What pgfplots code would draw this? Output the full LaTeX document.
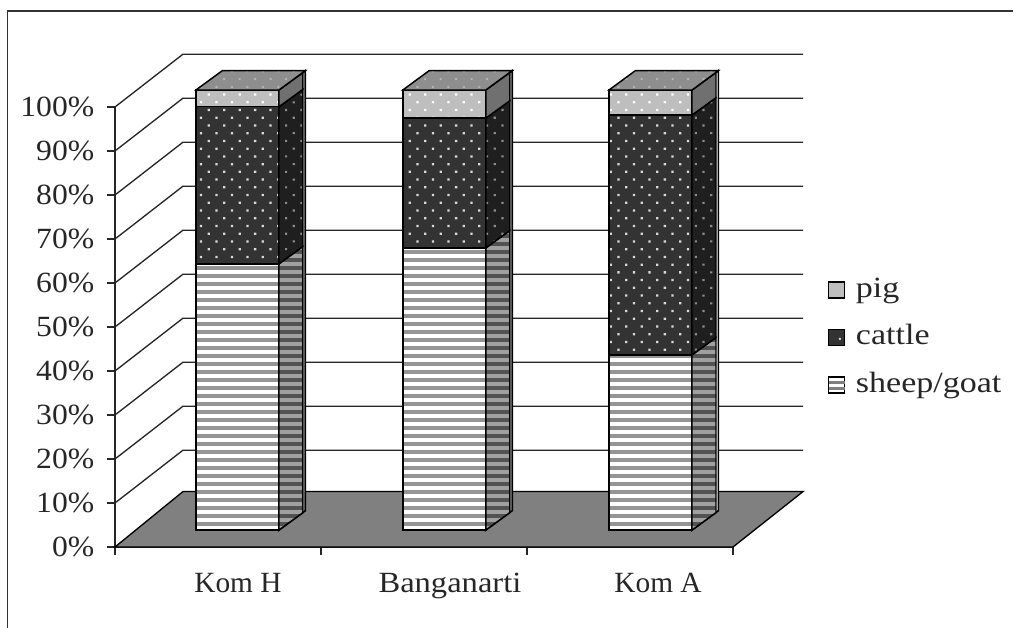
\documentclass[border=0pt]{standalone}
\usepackage{fontspec}
\setmainfont{Liberation Serif}
\newfontfamily\tickfont[FakeStretch=1.08]{Liberation Serif}
\newfontfamily\midfont[FakeStretch=1.11]{Liberation Serif}
\newfontfamily\legendfont[FakeStretch=1.16]{Liberation Serif}
\usepackage{pgfplots}
\pgfplotsset{compat=1.18}
\usetikzlibrary{patterns.meta}

\definecolor{floorgray}{HTML}{808080}
\definecolor{pigfront}{HTML}{BEBEBE}
\definecolor{pigside}{HTML}{707070}
\definecolor{pigtop}{HTML}{8E8E8E}
\definecolor{cattlefront}{HTML}{333333}
\definecolor{cattleside}{HTML}{1F1F1F}
\definecolor{sheepside}{HTML}{A0A0A0}

\tikzset{
  sheepfront/.style={pattern={Lines[angle=0,distance=6pt,line width=2.3pt]},pattern color=black!42},
  sheepstripes/.style={pattern={Lines[angle=0,distance=6pt,line width=3pt]},pattern color=black!68},
  dotsfront/.style={pattern={Dots[distance=8.2pt,angle=45,radius=1.2pt]},pattern color=white!85!black},
  dotsside/.style={pattern={Dots[distance=8.2pt,angle=45,radius=1.1pt]},pattern color=white!55!black},
  dotspig/.style={pattern={Dots[distance=8.2pt,angle=45,radius=1.2pt]},pattern color=white},
  dotstop/.style={pattern={Dots[distance=8.2pt,angle=45,radius=1.1pt]},pattern color=white!70!black},
}

% bar geometry in axis units
\newcommand{\barw}{0.403}
\newcommand{\barbase}{3.86}
\newcommand{\sidex}{0.1165}
\newcommand{\sidey}{3.95}
\newcommand{\backx}{0.128}
\newcommand{\backy}{4.4}

\newcommand{\facepoly}[3]{%
  \addplot[forget plot,fill=#1,draw=none] coordinates {#3} --cycle;
  \addplot[forget plot,#2,draw=black,line width=1.1pt] coordinates {#3} --cycle;
}

\newcommand{\barseg}[7]{%
  \pgfmathsetmacro\xa{#1}\pgfmathsetmacro\xb{#1+\barw}\pgfmathsetmacro\xc{\xb+\sidex}
  \pgfmathsetmacro\yl{#2+\barbase}\pgfmathsetmacro\yh{#3+\barbase}
  \pgfmathsetmacro\ylb{\yl+\sidey}\pgfmathsetmacro\yhb{\yh+\sidey}
  \facepoly{#4}{#5}{(\xa,\yl)(\xb,\yl)(\xb,\yh)(\xa,\yh)}
  \facepoly{#6}{#7}{(\xb,\yl)(\xc,\ylb)(\xc,\yhb)(\xb,\yh)}
}

% #1 left edge, #2 sheep/goat, #3 cattle, #4 pig (percent)
\newcommand{\stackedbar}[4]{%
  \pgfmathsetmacro\sa{#2}\pgfmathsetmacro\sb{#2+#3}\pgfmathsetmacro\sc{#2+#3+#4}
  \pgfmathsetmacro\rx{#1+\barw}\pgfmathsetmacro\rxo{\rx+\backx}
  \pgfmathsetmacro\by{\barbase+\backy}\pgfmathsetmacro\ty{\sc+\barbase+\backy}\pgfmathsetmacro\fy{\sc+\barbase}
  \addplot[forget plot,fill=white,draw=black,line width=1.3pt] coordinates {(\rx,\barbase)(\rxo,\by)(\rxo,\ty)(\rx,\fy)} --cycle;
  \edef\topa{\sa}\edef\topb{\sb}\edef\topc{\sc}\edef\xleft{#1}
  \barseg{\xleft}{0}{\topa}{white}{sheepfront}{sheepside}{sheepstripes}
  \barseg{\xleft}{\topa}{\topb}{cattlefront}{dotsfront}{cattleside}{dotsside}
  \barseg{\xleft}{\topb}{\topc}{pigfront}{dotspig}{pigside}{}
  \pgfmathsetmacro\rx{\xleft+\barw}\pgfmathsetmacro\rxo{\rx+\backx}
  \pgfmathsetmacro\ty{\topc+\barbase+\backy}\pgfmathsetmacro\fy{\topc+\barbase}
  \pgfmathsetmacro\lxo{\xleft+\backx}
  \facepoly{pigtop}{dotstop}{(\xleft,\fy)(\lxo,\ty)(\rxo,\ty)(\rx,\fy)}
}

\begin{document}
\fontsize{22}{26}\selectfont
\begin{tikzpicture}
\begin{axis}[
    x=154.5pt, y=3.3pt,
    xmin=0, xmax=3, ymin=0, ymax=100,
    clip=false,
    axis x line*=bottom, axis y line*=left,
    axis line style={line width=1.1pt,black!85},
    tick style={line width=1.1pt,black!85},
    tick align=outside,
    major tick length=6pt,
    ytick={0,10,...,100},
    yticklabels={0\%,10\%,20\%,30\%,40\%,50\%,60\%,70\%,80\%,90\%,100\%},
    xtick={0,1,2,3},
    xticklabels={},
    extra x ticks={0.597,1.626,2.636},
    extra x tick labels={Kom H,{\midfont Banganarti},Kom A},
    extra x tick style={major tick length=0pt},
    xticklabel style={yshift=-12pt,black!85},
    yticklabel style={xshift=-2pt,black!85,font=\tickfont},
    legend cell align=left,
    legend style={at={(axis cs:3.44,47.6)},anchor=west,draw=none,fill=none,
      text=black!85,font=\legendfont,
      nodes={text height=16pt,text depth=5pt,inner sep=0pt},
      row sep=14.6pt,
      /tikz/every odd column/.style={column sep=8pt}},
]
% frame of the figure
\addplot[forget plot,black!80,line width=1.1pt] coordinates {(-0.522,-18.4)(-0.522,121.8)(4.36,121.8)};

% walls
\pgfplotsinvokeforeach{10,20,...,100}{
  \pgfmathsetmacro\gb{#1+12}
  \addplot[forget plot,black!85,line width=1pt] coordinates {(0,#1)(0.33,\gb)(3.34,\gb)};
}
% floor
\addplot[forget plot,fill=floorgray,draw=black,line width=1pt] coordinates {(0,0)(0.33,12.6)(3.34,12.6)(3,0)} --cycle;

% sheep/goat, cattle, pig in percent
\stackedbar{0.393}{60.5}{35.7}{3.8}
\stackedbar{1.397}{64.1}{29.5}{6.4}
\stackedbar{2.398}{39.8}{54.5}{5.7}

\addlegendimage{legend image code/.code={
  \draw[fill=pigfront,draw=black,line width=1pt] (0pt,-6pt) rectangle (12pt,6pt);}}
\addlegendentry{pig}
\addlegendimage{legend image code/.code={
  \draw[fill=cattlefront,draw=black,line width=1pt] (0pt,-6pt) rectangle (12pt,6pt);
  \fill[white!85!black] (8.5pt,-1pt) circle (0.7pt);}}
\addlegendentry{cattle}
\addlegendimage{legend image code/.code={
  \draw[fill=white,draw=black,line width=1pt] (0pt,-6pt) rectangle (12pt,6pt);
  \fill[black!50] (0.5pt,1.5pt) rectangle (11.5pt,3pt);
  \fill[black!50] (0.5pt,-3pt) rectangle (11.5pt,-1.5pt);}}
\addlegendentry{sheep/goat}
\end{axis}
\pgfresetboundingbox
\path[use as bounding box] (-86.25pt,-60.75pt) rectangle ++(760.5pt,471pt);
\end{tikzpicture}
\end{document}
